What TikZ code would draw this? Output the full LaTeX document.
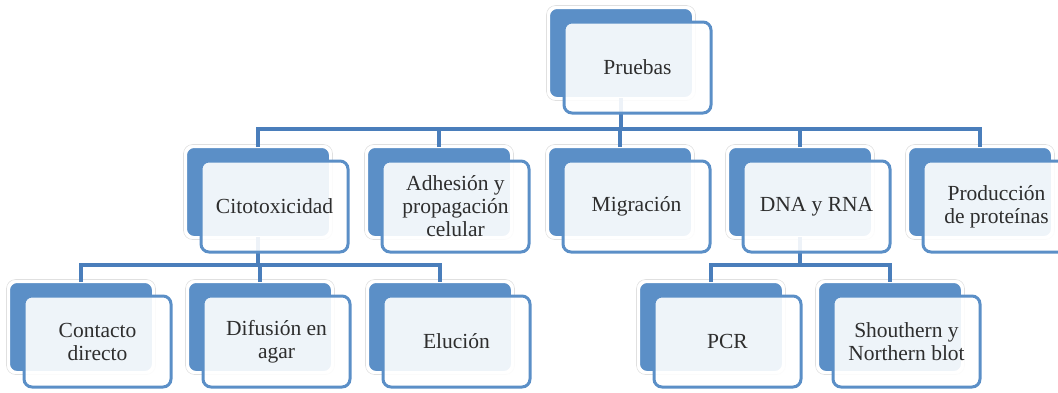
\documentclass[tikz,border=0pt]{standalone}
\usepackage{fontspec}
\setmainfont{Liberation Serif}
\usetikzlibrary{calc}
\definecolor{unitblue}{HTML}{5B8FC7}
\definecolor{linkblue}{HTML}{4A7EBB}
\tikzset{
  x=1pt, y=-1pt,
  backbox/.style={rectangle, rounded corners=8pt, fill=unitblue, draw=white,
    line width=2pt, minimum width=144pt, minimum height=90pt,
    inner sep=0pt, outer sep=0pt, anchor=north west},
  backshadow/.style={rectangle, rounded corners=9pt, draw=black!12,
    line width=0.6pt, minimum width=149pt, minimum height=95pt,
    inner sep=0pt, outer sep=0pt, anchor=north west},
  frontbox/.style={rectangle, rounded corners=8pt, fill=white, fill opacity=0.9,
    text opacity=1, draw=unitblue, line width=3pt, minimum width=147pt,
    minimum height=91pt, inner sep=2pt, outer sep=0pt, anchor=north west,
    align=center, font=\fontsize{21.5}{23}\selectfont, text=black!82},
  conn/.style={draw=linkblue, line width=3.2pt},
}
\newcommand{\backunit}[3]{%
  \node[backshadow] at (#2-2.5,#3-2.5) {};
  \node[backbox] (#1-b) at (#2,#3) {};}
\newcommand{\frontunit}[4]{%
  \node[frontbox] (#1) at (#2+15,#3+14) {#4};}
\begin{document}
\begin{tikzpicture}
\useasboundingbox (0,0) rectangle (1058,392);
\clip (0,0) rectangle (1058,392);
% back panels
\backunit{pru}{549}{8}
\backunit{cit}{186}{147}
\backunit{adh}{367}{147}
\backunit{mig}{548}{147}
\backunit{dna}{728}{147}
\backunit{pro}{908}{147}
\backunit{con}{9}{282}
\backunit{dif}{188}{282}
\backunit{elu}{368}{282}
\backunit{pcr}{639}{282}
\backunit{sho}{818}{282}
% connectors
\coordinate (bar1) at (0,129);
\coordinate (bar2) at (0,265);
\draw[conn] (pru-b.south) -- (pru-b.south |- bar1);
\draw[conn] (cit-b.north) -- (cit-b.north |- bar1) -- (pro-b.north |- bar1) -- (pro-b.north);
\draw[conn] (adh-b.north) -- (adh-b.north |- bar1);
\draw[conn] (mig-b.north) -- (mig-b.north |- bar1);
\draw[conn] (dna-b.north) -- (dna-b.north |- bar1);
\draw[conn] (cit-b.south) -- (cit-b.south |- bar2);
\draw[conn] (con-b.north) -- (con-b.north |- bar2) -- (elu-b.north |- bar2) -- (elu-b.north);
\draw[conn] (dif-b.north) -- (dif-b.north |- bar2);
\draw[conn] (dna-b.south) -- (dna-b.south |- bar2);
\draw[conn] (pcr-b.north) -- (pcr-b.north |- bar2) -- (sho-b.north |- bar2) -- (sho-b.north);
% front panels with labels
\frontunit{pru}{549}{8}{Pruebas}
\frontunit{cit}{186}{147}{Citotoxicidad}
\frontunit{adh}{367}{147}{Adhesión y\\propagación\\celular}
\frontunit{mig}{548}{147}{Migración}
\frontunit{dna}{728}{147}{DNA y RNA}
\frontunit{pro}{908}{147}{Producción\\de proteínas}
\frontunit{con}{9}{282}{Contacto\\directo}
\frontunit{dif}{188}{282}{Difusión en\\agar}
\frontunit{elu}{368}{282}{Elución}
\frontunit{pcr}{639}{282}{PCR}
\frontunit{sho}{818}{282}{Shouthern y\\Northern blot}
\end{tikzpicture}
\end{document}
